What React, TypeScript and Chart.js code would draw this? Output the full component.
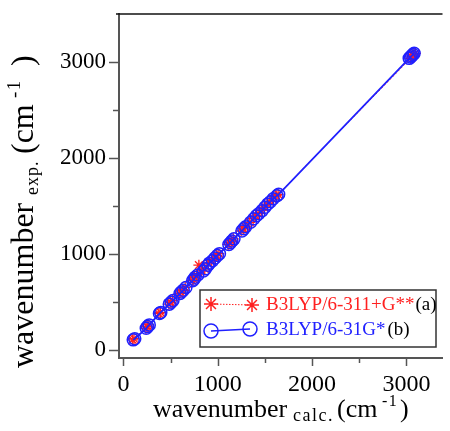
import React, { useEffect, useRef } from 'react';
import { Chart, registerables } from 'chart.js';

Chart.register(...registerables);

// Experimental wavenumbers (cm-1), y values
const expWavenumbers = [
  106, 118, 226, 244, 262, 380, 392, 478, 497, 515,
  588, 604, 622, 652, 722, 738, 758, 781, 824, 846,
  884, 905, 930, 958, 985, 1004, 1100, 1118, 1136, 1158,
  1240, 1262, 1285, 1330, 1368, 1398, 1420, 1452, 1488, 1520,
  1545, 1575, 1608, 1622, 3038, 3052, 3064, 3078, 3090,
];
// Calculated wavenumbers, B3LYP/6-311+G** (a)
const calcA = [
  98, 112, 238, 252, 270, 376, 392, 482, 500, 520,
  592, 608, 628, 655, 730, 742, 752, 775, 830, 862,
  800, 900, 936, 962, 990, 1012, 1110, 1128, 1144, 1165,
  1248, 1270, 1292, 1340, 1376, 1402, 1428, 1462, 1494, 1522,
  1552, 1580, 1620, 1640, 3045, 3058, 3070, 3082, 3095,
];
// Calculated wavenumbers, B3LYP/6-31G* (b)
const calcB = [
  104, 120, 242, 256, 274, 382, 396, 486, 506, 525,
  600, 614, 634, 662, 734, 748, 760, 788, 848, 870,
  896, 912, 944, 970, 996, 1018, 1118, 1135, 1150, 1172,
  1256, 1276, 1296, 1348, 1382, 1410, 1435, 1470, 1500, 1530,
  1558, 1588, 1628, 1646, 3030, 3044, 3056, 3070, 3082,
];

const seriesLabels = ['B3LYP/6-311+G**', 'B3LYP/6-31G*'];
const seriesTags = ['(a)', '(b)'];
const xTickValues = [0, 500, 1000, 1500, 2000, 2500, 3000];
const yTickValues = [0, 500, 1000, 1500, 2000, 2500, 3000];
const xLimits = [-47, 3383];
const yLimits = [-83, 3500];

const FONT = '"Liberation Serif", "Times New Roman", serif';
const RED = '#ff2020';
const BLUE = '#2020ff';
const AXIS = '#555555';

type Piece = { text: string; at: number; size: number; dy: number; spacing?: number };

function drawPieces(ctx: CanvasRenderingContext2D, pieces: Piece[]) {
  for (const p of pieces) {
    ctx.font = `${p.size}px ${FONT}`;
    (ctx as any).letterSpacing = `${p.spacing || 0}px`;
    ctx.fillText(p.text, p.at, p.dy);
  }
  (ctx as any).letterSpacing = '0px';
}

function drawStar(ctx: CanvasRenderingContext2D, x: number, y: number, r: number) {
  ctx.beginPath();
  for (let i = 0; i < 4; i++) {
    const a = (i * Math.PI) / 4;
    ctx.moveTo(x - r * Math.cos(a), y - r * Math.sin(a));
    ctx.lineTo(x + r * Math.cos(a), y + r * Math.sin(a));
  }
  ctx.stroke();
}

const decorPlugin = {
  id: 'decor',
  afterDraw(chart: any) {
    const ctx: CanvasRenderingContext2D = chart.ctx;
    const { chartArea } = chart;
    const xs = chart.scales.x;
    const ys = chart.scales.y;
    ctx.save();
    // top border
    ctx.strokeStyle = '#111';
    ctx.lineWidth = 1.5;
    ctx.beginPath();
    ctx.moveTo(chartArea.left - 3, chartArea.top);
    ctx.lineTo(chartArea.right, chartArea.top);
    ctx.stroke();
    // tick marks
    ctx.strokeStyle = AXIS;
    ctx.lineWidth = 1.5;
    for (const v of xTickValues) {
      const px = Math.round(xs.getPixelForValue(v)) + 0.5;
      const len = v % 1000 === 0 ? 8 : 5;
      ctx.beginPath();
      ctx.moveTo(px, chartArea.bottom);
      ctx.lineTo(px, chartArea.bottom + len);
      ctx.stroke();
    }
    for (const v of yTickValues) {
      const py = Math.round(ys.getPixelForValue(v)) + 0.5;
      const len = v % 1000 === 0 ? 10 : 6;
      ctx.beginPath();
      ctx.moveTo(chartArea.left, py);
      ctx.lineTo(chartArea.left - len, py);
      ctx.stroke();
    }
    // axis titles
    ctx.fillStyle = '#000';
    ctx.textBaseline = 'alphabetic';
    ctx.textAlign = 'left';
    ctx.save();
    ctx.translate(0, 417);
    drawPieces(ctx, [
      { text: 'wavenumber', at: 153, size: 26, dy: 0 },
      { text: 'calc.', at: 293, size: 18, dy: 4, spacing: 1.5 },
      { text: '(cm', at: 337, size: 26, dy: 0 },
      { text: '-1', at: 382, size: 16, dy: -11, spacing: 1.5 },
      { text: ')', at: 400, size: 26, dy: 0 },
    ]);
    ctx.restore();
    ctx.save();
    ctx.translate(33, 368);
    ctx.rotate(-Math.PI / 2);
    drawPieces(ctx, [
      { text: 'wavenumber', at: 0, size: 32, dy: 0 },
      { text: 'exp.', at: 173, size: 18, dy: 5, spacing: 1 },
      { text: '(cm', at: 214, size: 32, dy: 0 },
      { text: '-1', at: 270, size: 19, dy: -13, spacing: 1.5 },
      { text: ')', at: 302, size: 32, dy: 0 },
    ]);
    ctx.restore();
    // legend
    const bx = 200, by = 290, bw = 236, bh = 57;
    ctx.fillStyle = '#fff';
    ctx.fillRect(bx, by, bw, bh);
    ctx.strokeStyle = '#333';
    ctx.lineWidth = 1.5;
    ctx.strokeRect(bx, by, bw, bh);
    // entry a
    ctx.strokeStyle = RED;
    ctx.lineWidth = 1;
    ctx.setLineDash([1.5, 1.5]);
    ctx.beginPath();
    ctx.moveTo(211, 304);
    ctx.lineTo(252, 305);
    ctx.stroke();
    ctx.setLineDash([]);
    ctx.lineWidth = 1.5;
    drawStar(ctx, 211, 304, 7);
    drawStar(ctx, 252, 305, 7);
    // entry b
    ctx.strokeStyle = BLUE;
    ctx.lineWidth = 1.5;
    ctx.beginPath();
    ctx.moveTo(211, 331);
    ctx.lineTo(250, 329);
    ctx.stroke();
    ctx.beginPath();
    ctx.arc(211, 331, 7, 0, Math.PI * 2);
    ctx.stroke();
    ctx.beginPath();
    ctx.arc(250, 329, 7, 0, Math.PI * 2);
    ctx.stroke();
    ctx.font = `19px ${FONT}`;
    ctx.fillStyle = RED;
    ctx.fillText(seriesLabels[0], 266, 310);
    let w = ctx.measureText(seriesLabels[0]).width;
    ctx.fillStyle = '#000';
    ctx.fillText(seriesTags[0], 266 + w + 1, 310);
    ctx.fillStyle = BLUE;
    ctx.fillText(seriesLabels[1], 266, 335);
    w = ctx.measureText(seriesLabels[1]).width;
    ctx.fillStyle = '#000';
    ctx.fillText(seriesTags[1], 266 + w + 2, 335);
    ctx.restore();
  },
};

export default function App() {
  const ref = useRef<HTMLCanvasElement | null>(null);
  useEffect(() => {
    if (!ref.current) return;
    const tickCb = (v: any) => (Number(v) % 1000 === 0 ? String(v) : '');
    const chart = new Chart(ref.current, {
      type: 'scatter',
      data: {
        datasets: [
          {
            label: seriesLabels[1],
            data: calcB.map((x, i) => ({ x, y: expWavenumbers[i] })),
            showLine: true,
            borderColor: BLUE,
            backgroundColor: 'rgba(0,0,0,0)',
            borderWidth: 1.8,
            pointStyle: 'circle',
            pointRadius: 6,
            pointBorderWidth: 1.5,
            pointBorderColor: BLUE,
            pointBackgroundColor: 'rgba(0,0,0,0)',
          },
          {
            label: seriesLabels[0],
            data: calcA.map((x, i) => ({ x, y: expWavenumbers[i] })),
            showLine: true,
            borderColor: RED,
            backgroundColor: 'rgba(0,0,0,0)',
            borderWidth: 1,
            borderDash: [2, 2],
            pointStyle: 'star',
            pointRadius: 5.5,
            pointBorderWidth: 1.3,
            pointBorderColor: RED,
          },
        ],
      },
      options: {
        animation: false,
        responsive: true,
        maintainAspectRatio: false,
        layout: { padding: { top: 14, right: 0, left: 0, bottom: 0 } },
        plugins: { legend: { display: false }, tooltip: { enabled: false } },
        scales: {
          x: {
            type: 'linear',
            min: xLimits[0],
            max: xLimits[1],
            afterBuildTicks: (s: any) => {
              s.ticks = xTickValues.map((v) => ({ value: v }));
            },
            afterFit: (s: any) => {
              s.height = 73;
              s.paddingLeft = 0;
              s.paddingRight = 0;
            },
            grid: { display: false, drawTicks: false },
            border: { display: true, color: AXIS, width: 2 },
            ticks: {
              font: { family: FONT, size: 24 },
              color: '#000',
              padding: 12,
              maxRotation: 0,
              autoSkip: false,
              callback: tickCb,
            },
          },
          y: {
            type: 'linear',
            min: yLimits[0],
            max: yLimits[1],
            afterBuildTicks: (s: any) => {
              s.ticks = yTickValues.map((v) => ({ value: v }));
            },
            afterFit: (s: any) => {
              s.width = 119;
              s.paddingTop = 0;
              s.paddingBottom = 0;
            },
            grid: { display: false, drawTicks: false },
            border: { display: true, color: AXIS, width: 2 },
            ticks: {
              font: { family: FONT, size: 23 },
              color: '#000',
              padding: 13,
              autoSkip: false,
              callback: tickCb,
            },
          },
        },
      },
      plugins: [decorPlugin],
    });
    return () => chart.destroy();
  }, []);
  return (
    <div style={{ position: 'fixed', left: 0, top: 0, width: 450, height: 431 }}>
      <canvas ref={ref} />
    </div>
  );
}
